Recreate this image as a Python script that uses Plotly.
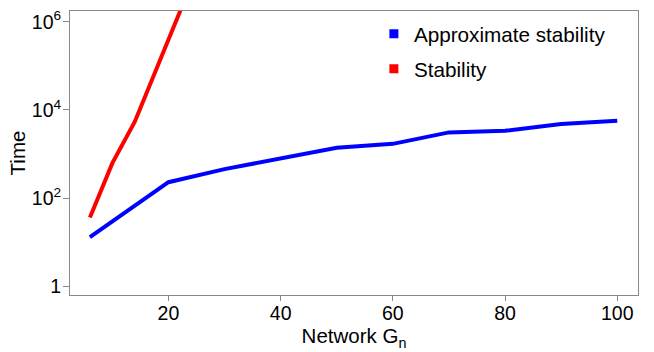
import plotly.graph_objects as go

# Data
network_n = [6, 10, 14, 20, 30, 40, 50, 60, 70, 80, 90, 100]
approx_time = [13, 30, 68, 229, 454, 776, 1380, 1700, 3090, 3360, 4800, 5700]

stab_n = [6, 10, 14, 20, 30]
stab_time = [36, 620, 5400, 420000, 500000000]

ytick_vals = [1, 100, 10000, 1000000]
ytick_text = ["1", "10<sup>2</sup>", "10<sup>4</sup>", "10<sup>6</sup>"]
xtick_vals = [20, 40, 60, 80, 100]

FONT = "Liberation Sans, Arial, sans-serif"
BLUE = "#0000ff"
RED = "#ff0000"

fig = go.Figure()
fig.add_trace(go.Scatter(x=network_n, y=approx_time, mode="lines",
                         line=dict(color=BLUE, width=4), showlegend=False))
fig.add_trace(go.Scatter(x=stab_n, y=stab_time, mode="lines",
                         line=dict(color=RED, width=4), showlegend=False))
# legend entries with square swatches
fig.add_trace(go.Scatter(x=[None], y=[None], mode="markers", name="Approximate stability",
                         marker=dict(symbol="square", size=9, color=BLUE),
                         legendgroup="a"))
fig.add_trace(go.Scatter(x=[None], y=[None], mode="markers", name="Stability",
                         marker=dict(symbol="square", size=9, color=RED),
                         legendgroup="b"))

fig.update_layout(
    width=654, height=352,
    margin=dict(l=70, r=16, t=9, b=53),
    paper_bgcolor="white", plot_bgcolor="white",
    font=dict(family=FONT, size=20, color="black"),
    legend=dict(x=0.535, y=0.99, xanchor="left", yanchor="top",
                bgcolor="rgba(0,0,0,0)", font=dict(size=20.7),
                traceorder="grouped", tracegroupgap=5, itemwidth=30),
    xaxis=dict(range=[2.45, 103.7], tickvals=xtick_vals, showgrid=False, zeroline=False,
               showline=True, linecolor="#888888", linewidth=1, mirror=True,
               ticks="outside", ticklen=5, tickcolor="#888888",
               tickfont=dict(size=19.5), ticklabelstandoff=-4,
               title=dict(text="Network G<sub>n</sub>", font=dict(size=20.5), standoff=4)),
    yaxis=dict(type="log", range=[-0.2, 6.245], tickvals=ytick_vals, ticktext=ytick_text,
               showgrid=False, zeroline=False,
               showline=True, linecolor="#888888", linewidth=1, mirror=True,
               ticks="outside", ticklen=6, tickcolor="#888888",
               tickfont=dict(size=19.5), ticklabelstandoff=-2,
               title=dict(text="Time", font=dict(size=20.5), standoff=0)),
)

fig.write_html("out.html")
